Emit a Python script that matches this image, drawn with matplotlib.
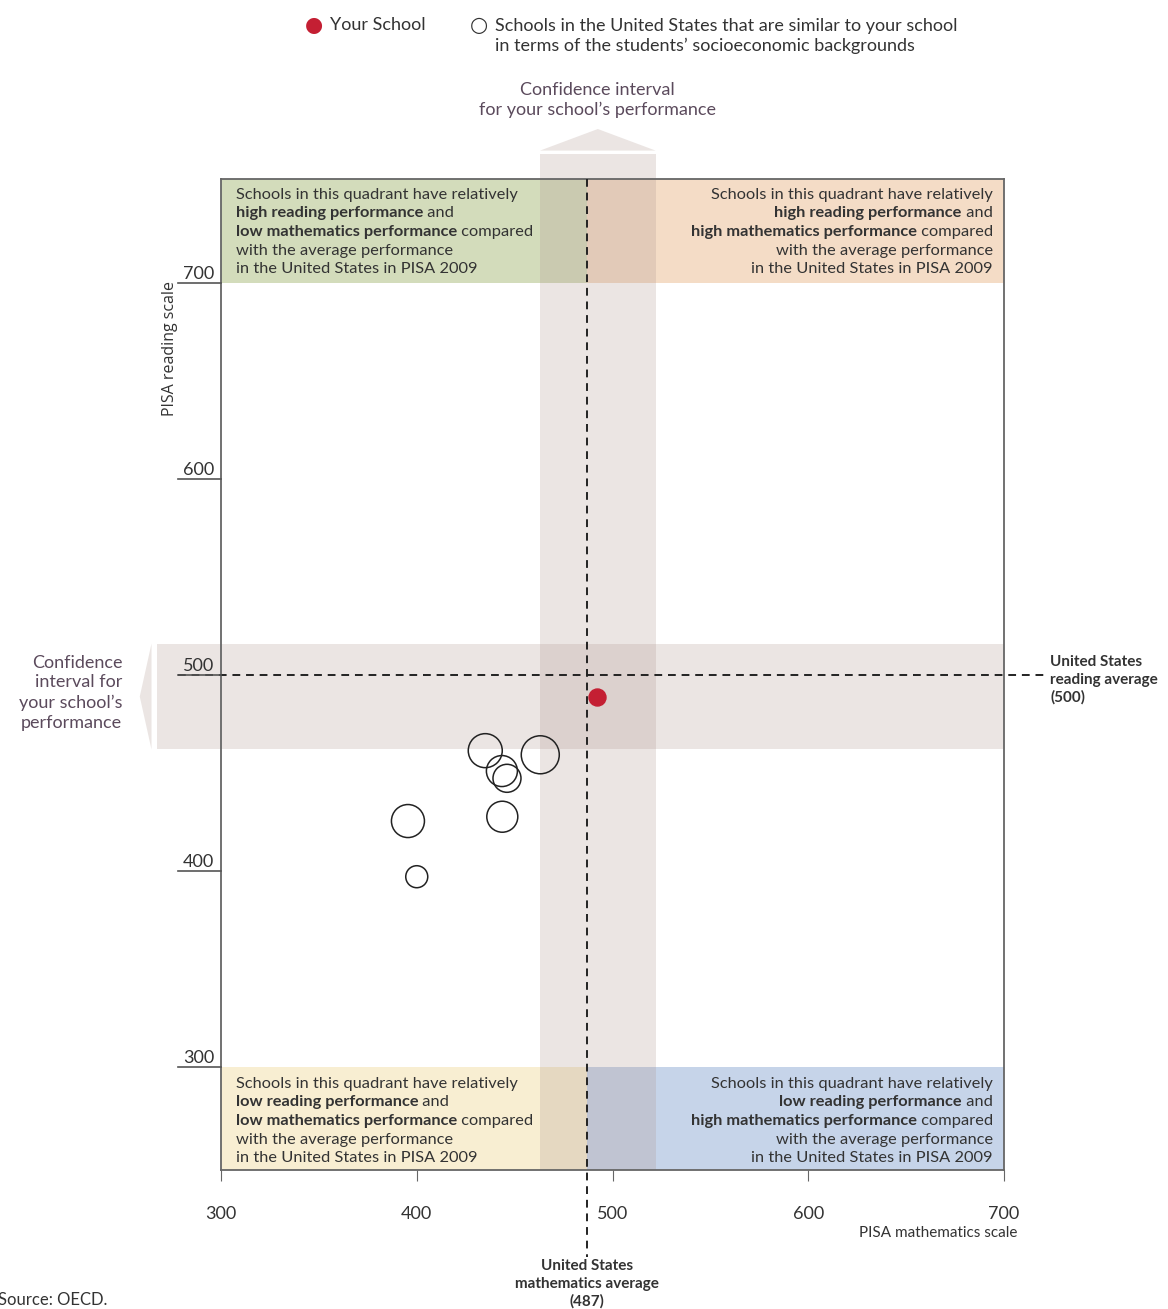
import numpy as np
import matplotlib.pyplot as plt
from matplotlib.patches import Rectangle, Polygon

plt.rcParams['font.family'] = ['Lato', 'DejaVu Sans']

# data
your_school = (492, 489)
similar_math = [435.0, 443.5, 446.1, 463.1, 395.5, 443.7, 400.0]
similar_read = [461.4, 451.0, 447.3, 459.3, 425.5, 427.7, 397.1]
similar_size = [34, 31, 28, 38, 33, 31, 22]   # marker diameter (px)
us_math_avg = 487
us_read_avg = 500
ci_math = (463, 522)
ci_read = (462, 516)
x_ticks = [300, 400, 500, 600, 700]
y_ticks = [300, 400, 500, 600, 700]

xmin, xmax = 300, 700
ymin, ymax = 247.5, 753

fig = plt.figure(figsize=(11.68, 13.09), dpi=100)
ax = fig.add_axes([221 / 1168, 1 - 1170 / 1309, 783 / 1168, 991 / 1309])
ax.set_xlim(xmin, xmax)
ax.set_ylim(ymin, ymax)

txt = '#333333'
ci_col = '#5b4a5c'
band = '#b09890'
band_a = 0.25

# quadrant boxes
ax.add_patch(Rectangle((xmin, 700), us_math_avg - xmin, ymax - 700, color='#d3dcbb', lw=0, zorder=0))
ax.add_patch(Rectangle((us_math_avg, 700), xmax - us_math_avg, ymax - 700, color='#f4dcc6', lw=0, zorder=0))
ax.add_patch(Rectangle((xmin, ymin), us_math_avg - xmin, 300 - ymin, color='#f8eed2', lw=0, zorder=0))
ax.add_patch(Rectangle((us_math_avg, ymin), xmax - us_math_avg, 300 - ymin, color='#c6d4e9', lw=0, zorder=0))

# confidence bands
ax.add_patch(Rectangle((ci_math[0], ymin), ci_math[1] - ci_math[0], 765.5 - ymin, color=band,
                       alpha=band_a, lw=0, zorder=1, clip_on=False))
ax.add_patch(Polygon([(ci_math[0], 767.5), ((ci_math[0] + ci_math[1]) / 2, 778.5), (ci_math[1], 767.5)],
                     closed=True, color=band, alpha=band_a, lw=0, zorder=1, clip_on=False))
ax.add_patch(Rectangle((267.5, ci_read[0]), xmax - 267.5, ci_read[1] - ci_read[0], color=band,
                       alpha=band_a, lw=0, zorder=1, clip_on=False))
ax.add_patch(Polygon([(264.5, ci_read[0]), (258.5, (ci_read[0] + ci_read[1]) / 2), (264.5, ci_read[1])],
                     closed=True, color=band, alpha=band_a, lw=0, zorder=1, clip_on=False))

# average lines
ax.plot([278, 721], [us_read_avg, us_read_avg], ls=(0, (4, 3)), color='#222222', lw=1.4,
        clip_on=False, zorder=3)
ax.plot([us_math_avg, us_math_avg], [ymax, 203], ls=(0, (4, 3)), color='#222222', lw=1.4,
        clip_on=False, zorder=3)

# points
ax.scatter(similar_math, similar_read, s=(np.array(similar_size) * 0.72) ** 2, facecolors='none',
           edgecolors='#222222', linewidths=1.1, zorder=4)
ax.scatter([your_school[0]], [your_school[1]], s=(17 * 0.72) ** 2, color='#c41f33', zorder=5)

# spines / ticks
for s in ax.spines.values():
    s.set_color('#666666')
    s.set_linewidth(1.3)
ax.set_xticks(x_ticks)
ax.set_xticklabels([str(v) for v in x_ticks], fontsize=13, color=txt)
ax.tick_params(axis='x', length=8, color='#666666', pad=18)
ax.set_yticks([])
for v in y_ticks:
    ax.plot([278, xmin], [v, v], color='#555555', lw=1.2, clip_on=False, zorder=3)
    ax.text(296.5, v + 0.5, str(v), ha='right', va='bottom', fontsize=13, color=txt)

ax.text(274, 701, 'PISA reading scale', rotation=90, ha='center', va='top', fontsize=11.5,
        color=txt, family=['Open Sans', 'DejaVu Sans'])
ax.text(707, 215.3, 'PISA mathematics scale', ha='right', va='center', fontsize=11, color=txt)


# quadrant texts with bold segments
def quad(x, y, ha, parts):
    # parts: list of lines, each a list of (text, bold)
    lh = 9.5
    fs = 11.8
    r = fig.canvas.get_renderer()
    for i, line in enumerate(parts):
        widths = []
        for t, b in line:
            tt = ax.text(0, 0, t, fontsize=fs, fontweight='bold' if b else 'normal')
            widths.append(tt.get_window_extent(r).width)
            tt.remove()
        total = sum(widths)
        x0 = ax.transData.transform((x, 0))[0]
        if ha == 'right':
            x0 -= total
        yy = y - i * lh
        for (t, b), w in zip(line, widths):
            ax.text(ax.transData.inverted().transform((x0, 0))[0], yy, t, fontsize=fs,
                    fontweight='bold' if b else 'normal', color=txt, va='center', ha='left', zorder=6)
            x0 += w


def lines(read, math):
    return [[("Schools in this quadrant have relatively", False)],
            [(f"{read} reading performance", True), (" and", False)],
            [(f"{math} mathematics performance", True), (" compared", False)],
            [("with the average performance", False)],
            [("in the United States in PISA 2009", False)]]


quad(307.5, 745, 'left', lines('high', 'low'))
quad(694.2, 745, 'right', lines('high', 'high'))
quad(307.5, 291.5, 'left', lines('low', 'low'))
quad(694.2, 291.5, 'right', lines('low', 'high'))

# annotations
ax.text((ci_math[0] + ci_math[1]) / 2, 793.4, 'Confidence interval\nfor your school\u2019s performance',
        ha='center', va='center', fontsize=13, color=ci_col, linespacing=1.3)
ax.text(249.5, 491, 'Confidence\ninterval for\nyour school\u2019s\nperformance', ha='right', va='center',
        fontsize=13, color=ci_col, linespacing=1.3)
ax.text(723.5, 497.5, 'United States\nreading average\n(500)', ha='left', va='center', fontsize=11,
        fontweight='bold', color=txt, linespacing=1.3)
ax.text(us_math_avg, 189.3, 'United States\nmathematics average\n(487)', ha='center', va='center',
        fontsize=11, fontweight='bold', color=txt, linespacing=1.3)

# legend
fig.text(314 / 1168, 1 - 25 / 1309, '\u25cf', ha='center', va='center', fontsize=15, color='#c41f33',
         family='DejaVu Sans')
fig.text(330 / 1168, 1 - 25 / 1309, 'Your School', ha='left', va='center', fontsize=13, color=txt)
fig.text(479 / 1168, 1 - 25 / 1309, '\u25cb', ha='center', va='center', fontsize=15, color='#333333',
         family='DejaVu Sans')
fig.text(495 / 1168, 1 - 36 / 1309,
         'Schools in the United States that are similar to your school\nin terms of the students\u2019 socioeconomic backgrounds',
         ha='left', va='center', fontsize=13, color=txt, linespacing=1.3)

fig.text(-2 / 1168, 1 - 1300 / 1309, 'Source: OECD.', ha='left', va='center', fontsize=12, color=txt)

fig.savefig('out.png', dpi=100)
